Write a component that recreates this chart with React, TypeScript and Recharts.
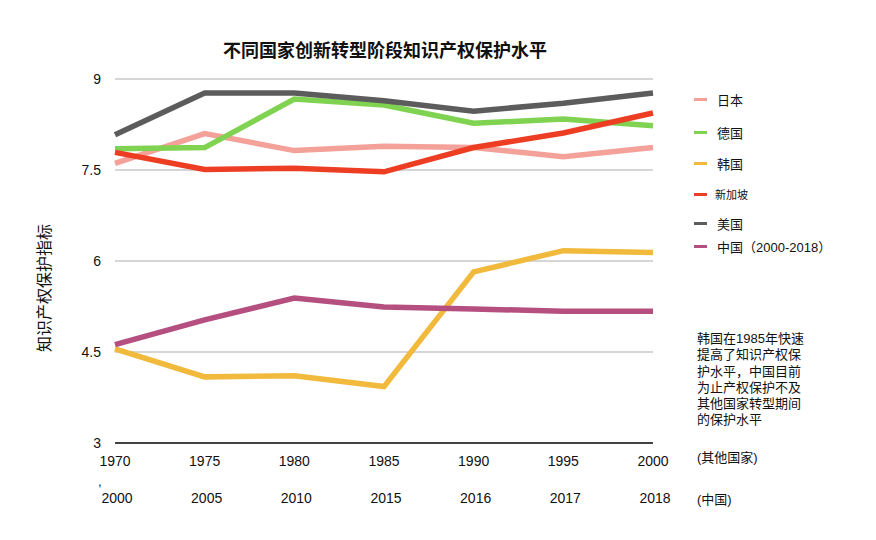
import { LineChart, Line, XAxis, YAxis, CartesianGrid } from 'recharts';

// x labels: top row for the other countries, bottom row for China
const years = ['1970', '1975', '1980', '1985', '1990', '1995', '2000'];
const chinaYears = ['2000', '2005', '2010', '2015', '2016', '2017', '2018'];
const yTicks = [3, 4.5, 6, 7.5, 9];

const japan = [7.61, 8.1, 7.82, 7.89, 7.87, 7.72, 7.87];
const germany = [7.85, 7.87, 8.67, 8.57, 8.27, 8.34, 8.23];
const korea = [4.55, 4.09, 4.11, 3.93, 5.82, 6.17, 6.14];
const singapore = [7.79, 7.51, 7.53, 7.47, 7.87, 8.11, 8.44];
const usa = [8.08, 8.77, 8.77, 8.64, 8.47, 8.6, 8.77];
const china = [4.62, 5.03, 5.39, 5.24, 5.21, 5.17, 5.17];

const series = [
  { key: 'japan', name: '日本', color: '#f4a199', values: japan },
  { key: 'germany', name: '德国', color: '#7fd350', values: germany },
  { key: 'korea', name: '韩国', color: '#f1ba3d', values: korea },
  { key: 'singapore', name: '新加坡', color: '#ed3e24', values: singapore },
  { key: 'usa', name: '美国', color: '#5c5c5c', values: usa },
  { key: 'china', name: '中国（2000-2018）', color: '#b44f7f', values: china },
];

const note = [
  '韩国在1985年快速',
  '提高了知识产权保',
  '护水平，中国目前',
  '为止产权保护不及',
  '其他国家转型期间',
  '的保护水平',
];

const data = years.map((year, i) => {
  const row: any = { year, cn: chinaYears[i] };
  series.forEach((s) => {
    row[s.key] = s.values[i];
  });
  return row;
});

const font = '"Liberation Sans", "Noto Sans CJK SC", sans-serif';

function DualTick(props: any) {
  const { x, y, payload, index } = props;
  return (
    <g>
      <text x={x} y={y + 15} textAnchor="middle" fontSize={14} fill="#111" fontFamily={font}>
        {payload.value}
      </text>
      <text x={x + 2} y={y + 52} textAnchor="middle" fontSize={14} fill="#111" fontFamily={font}>
        {chinaYears[index]}
      </text>
    </g>
  );
}

// legend rows (y centers) and font sizes
const legendY = [99, 132, 163, 194, 223, 246];
const legendSize = [13, 13, 13, 11, 13, 13];

export default function App() {
  return (
    <div
      style={{
        position: 'absolute',
        left: 0,
        top: 0,
        width: 876,
        height: 540,
        background: '#fff',
        fontFamily: font,
        color: '#111',
      }}
    >
      <LineChart
        width={876}
        height={540}
        data={data}
        margin={{ top: 79, right: 223, bottom: 37, left: 75 }}
      >
        <CartesianGrid vertical={false} stroke="#c8c8c8" strokeWidth={1.5} />
        <XAxis
          dataKey="year"
          height={60}
          interval={0}
          tickLine={false}
          axisLine={{ stroke: '#111', strokeWidth: 1.5 }}
          tick={<DualTick />}
        />
        <YAxis
          width={40}
          domain={[3, 9]}
          ticks={yTicks}
          axisLine={false}
          tickLine={false}
          tickMargin={8}
          tick={{ fontSize: 14, fill: '#111', fontFamily: font }}
        />
        {series.map((s) => (
          <Line
            key={s.key}
            type="linear"
            dataKey={s.key}
            stroke={s.color}
            strokeWidth={5.5}
            dot={false}
            isAnimationActive={false}
          />
        ))}
      </LineChart>

      <div
        style={{
          position: 'absolute',
          left: 0,
          width: 770,
          top: 36,
          textAlign: 'center',
          fontSize: 18,
          fontWeight: 'bold',
        }}
      >
        不同国家创新转型阶段知识产权保护水平
      </div>

      <div
        style={{
          position: 'absolute',
          left: 45 - 80,
          top: 288 - 10,
          width: 160,
          height: 20,
          lineHeight: '20px',
          textAlign: 'center',
          fontSize: 16,
          transform: 'rotate(-90deg)',
        }}
      >
        知识产权保护指标
      </div>

      {series.map((s, i) => (
        <div
          key={s.key}
          style={{
            position: 'absolute',
            left: 694,
            top: legendY[i] - 10,
            height: 20,
            display: 'flex',
            alignItems: 'center',
            fontSize: legendSize[i],
          }}
        >
          <span
            style={{
              display: 'inline-block',
              width: 13,
              height: 3,
              background: s.color,
              marginRight: i === 3 ? 8 : 10,
            }}
          />
          {s.name}
        </div>
      ))}

      <div
        style={{
          position: 'absolute',
          left: 697,
          top: 331,
          fontSize: 13,
          lineHeight: '16.3px',
        }}
      >
        {note.map((t) => (
          <div key={t}>{t}</div>
        ))}
      </div>
      <div style={{ position: 'absolute', left: 697, top: 447, fontSize: 13 }}>(其他国家)</div>
      <div style={{ position: 'absolute', left: 697, top: 489, fontSize: 13 }}>(中国)</div>
      <div style={{ position: 'absolute', left: 98, top: 474, fontSize: 13 }}>,</div>
    </div>
  );
}
